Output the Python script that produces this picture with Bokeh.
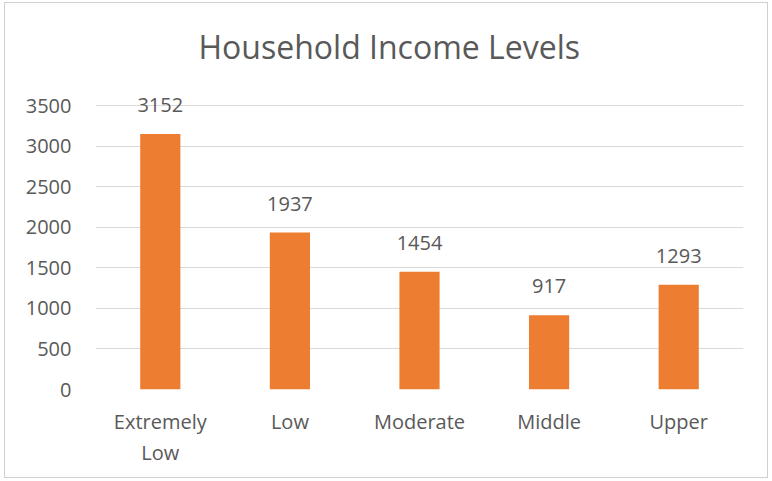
from bokeh.plotting import figure
from bokeh.models import ColumnDataSource, Range1d, SingleIntervalTicker
from bokeh.embed import file_html
from bokeh.resources import INLINE

categories = ["Extremely\nLow", "Low", "Moderate", "Middle", "Upper"]
values = [3152, 1937, 1454, 917, 1293]
labels = [str(v) for v in values]

src = ColumnDataSource(dict(cat=categories, val=values, lab=labels))

FONT = "Open Sans"
TXT = "#595959"

p = figure(width=764, height=476, x_range=categories, y_range=Range1d(0, 3850),
           output_backend="svg", toolbar_location=None,
           min_border_left=90, min_border_right=26, min_border_bottom=90, min_border_top=74,
           styles={"margin-left": "4px", "margin-top": "2px", "border": "1px solid #D0D0D0"})
p.title.text = "Household Income Levels"
p.title.align = "left"
p.title.text_font = FONT
p.title.text_font_size = "32px"
p.title.text_font_style = "normal"
p.title.text_color = TXT
p.title.offset = 103
p.title.standoff = 20

p.vbar(x="cat", top="val", width=0.31, source=src, color="#ED7D31", line_color=None)
p.text(x="cat", y="val", text="lab", source=src, text_align="center", text_baseline="bottom",
       y_offset=-22, text_font=dict(value=FONT), text_font_size="20px", text_color=TXT)

p.yaxis.ticker = SingleIntervalTicker(interval=500)
for ax in (p.xaxis[0], p.yaxis[0]):
    ax.axis_line_color = None
    ax.major_tick_line_color = None
    ax.minor_tick_line_color = None
    ax.major_label_text_font = FONT
    ax.major_label_text_font_size = "20px"
    ax.major_label_text_color = TXT
p.yaxis.major_label_standoff = 18
p.xaxis.major_label_standoff = 12
p.xaxis.major_label_text_line_height = 1.15

p.xgrid.grid_line_color = None
p.ygrid.grid_line_color = "#D9D9D9"
p.outline_line_color = None
p.border_fill_color = "white"
p.background_fill_color = "white"
p.x_range.range_padding = 0.0

open("out.html", "w").write(file_html(p, INLINE))
